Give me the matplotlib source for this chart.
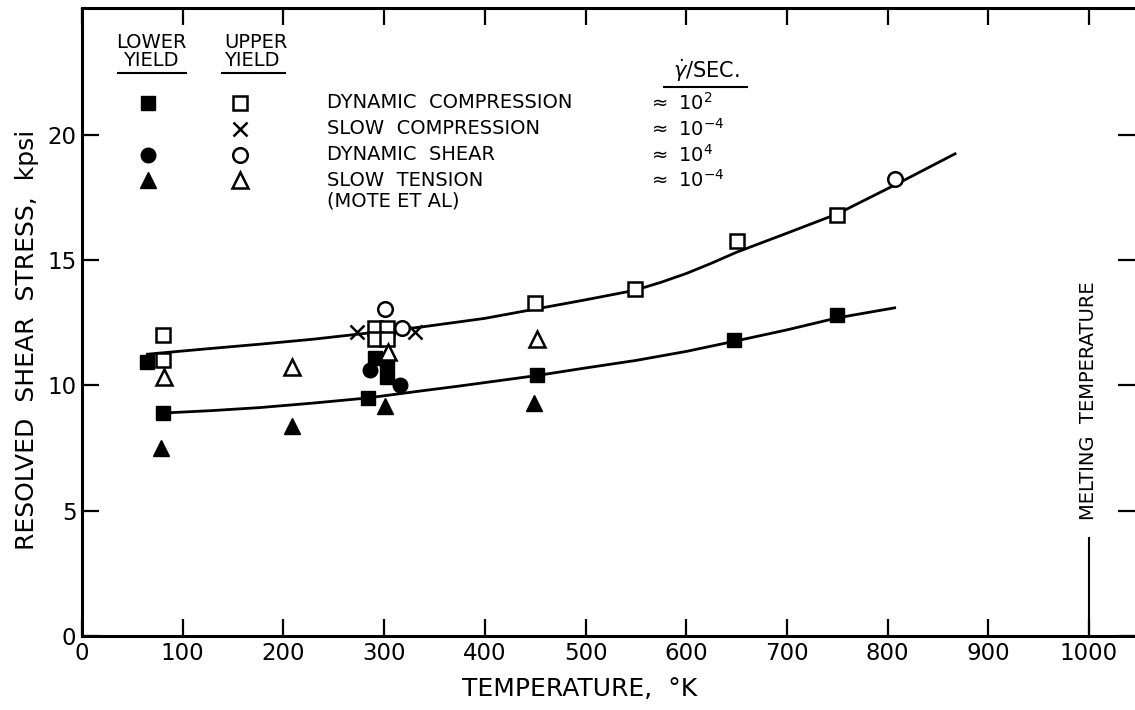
import matplotlib
matplotlib.use('Agg')
import matplotlib.pyplot as plt

# dynamic compression  (filled = lower yield, open = upper yield)
dc_low_T = [65, 80, 284, 291, 303, 303, 452, 647, 750]
dc_low_s = [10.95, 8.9, 9.5, 11.1, 10.95, 10.35, 10.4, 11.8, 12.8]
dc_up_T = [80, 80, 291, 303, 291, 303, 450, 549, 650, 750]
dc_up_s = [12.0, 11.0, 12.3, 12.3, 11.85, 11.85, 13.3, 13.85, 15.75, 16.8]

# slow compression
sc_T = [273, 331]
sc_s = [12.15, 12.15]

# dynamic shear
ds_low_T = [286, 316]
ds_low_s = [10.6, 10.0]
ds_up_T = [301, 318, 807]
ds_up_s = [13.05, 12.3, 18.25]

# slow tension (Mote et al)
st_low_T = [78, 209, 301, 449]
st_low_s = [7.5, 8.4, 9.2, 9.3]
st_up_T = [81, 209, 304, 452]
st_up_s = [10.35, 10.75, 11.35, 11.85]

# faired curves
upper_T = [65, 120, 177, 230, 270, 336, 400, 450, 500, 549, 575, 600, 625, 650, 700, 750, 807, 867]
upper_s = [11.25, 11.45, 11.65, 11.85, 12.03, 12.33, 12.68, 13.05, 13.42, 13.8, 14.12, 14.47, 14.88, 15.32, 16.08, 16.85, 18.0, 19.25]
lower_T = [80, 130, 177, 230, 283, 336, 375, 452, 500, 550, 600, 646, 700, 750, 807]
lower_s = [8.9, 9.0, 9.12, 9.3, 9.5, 9.78, 9.98, 10.4, 10.7, 11.0, 11.36, 11.75, 12.22, 12.7, 13.1]

melt_T = 1000

xticks = list(range(0, 1001, 100))
yticks = [0, 5, 10, 15, 20]

plt.rcParams['font.family'] = 'DejaVu Sans'
plt.rcParams['mathtext.fontset'] = 'dejavusans'

fig = plt.figure(figsize=(11.35, 7.1), dpi=100)
W, H = 1135.0, 710.0
L, R, T, B = 82, 1135, 8, 636
ax = fig.add_axes([L / W, 1 - B / H, (R - L) / W, (B - T) / H])
ax.set_xlim(0, (R - L) / 1.007)
ax.set_ylim(0, (B - T) / 25.05)

lw = 2.0
ax.plot(upper_T, upper_s, 'k-', lw=lw, zorder=2)
ax.plot(lower_T, lower_s, 'k-', lw=lw, zorder=2)

ms = 10.5
mew = 1.8
ax.plot(dc_low_T, dc_low_s, 's', color='k', ms=ms, ls='none', zorder=3)
ax.plot(dc_up_T, dc_up_s, 's', mfc='white', mec='k', mew=mew, ms=ms, ls='none', zorder=3)
ax.plot(sc_T, sc_s, 'x', color='k', mew=mew, ms=ms, ls='none', zorder=3)
ax.plot(ds_low_T, ds_low_s, 'o', color='k', ms=ms, ls='none', zorder=3)
ax.plot(ds_up_T, ds_up_s, 'o', mfc='white', mec='k', mew=mew, ms=ms, ls='none', zorder=3)
ax.plot(st_low_T, st_low_s, '^', color='k', ms=ms + 1, ls='none', zorder=3)
ax.plot(st_up_T, st_up_s, '^', mfc='white', mec='k', mew=mew, ms=ms + 1, ls='none', zorder=3)

# melting temperature marker
ax.plot([melt_T, melt_T], [0, 3.9], 'k-', lw=1.5)
ax.text(melt_T, 9.4, 'MELTING  TEMPERATURE', rotation=90, ha='center', va='center', fontsize=14)

ax.set_xticks(xticks)
ax.set_yticks(yticks)
ax.set_xticklabels([str(t) for t in xticks], fontsize=16.5)
ax.set_yticklabels([str(t) for t in yticks], fontsize=16.5)
ax.tick_params(direction='in', length=12, width=1.6, top=True, right=True, pad=4)
for side in ['left', 'bottom', 'top']:
    ax.spines[side].set_linewidth(2.2)
ax.spines['right'].set_visible(False)

fig.text(580 / W, 1 - 689 / H, 'TEMPERATURE,  °K', ha='center', va='center', fontsize=18)
fig.text(27 / W, 1 - 340 / H, 'RESOLVED  SHEAR  STRESS,  kpsi', rotation=90,
         ha='center', va='center', fontsize=18)


# legend drawn in figure pixel coordinates
def fx(x):
    return (x - L) / (R - L)


def fy(y):
    return (B - y) / (B - T)


tr = ax.transAxes
fs = 14
ax.text(fx(151), fy(43), 'LOWER', transform=tr, ha='center', va='center', fontsize=fs)
ax.text(fx(151), fy(61), 'YIELD', transform=tr, ha='center', va='center', fontsize=fs)
ax.text(fx(256), fy(43), 'UPPER', transform=tr, ha='center', va='center', fontsize=fs)
ax.text(fx(252), fy(61), 'YIELD', transform=tr, ha='center', va='center', fontsize=fs)
ax.plot([fx(118), fx(186)], [fy(73), fy(73)], 'k-', lw=1.5, transform=tr)
ax.plot([fx(222), fx(285)], [fy(73), fy(73)], 'k-', lw=1.5, transform=tr)
ax.text(fx(706), fy(71), r'$\dot{\gamma}$/SEC.', transform=tr, ha='center', va='center', fontsize=fs + 1)
ax.plot([fx(664), fx(747)], [fy(87), fy(87)], 'k-', lw=1.5, transform=tr)

rows = [103, 129, 155, 180]
ax.plot(fx(148), fy(rows[0]), 's', color='k', ms=ms, transform=tr)
ax.plot(fx(240), fy(rows[0]), 's', mfc='white', mec='k', mew=mew, ms=ms, transform=tr)
ax.plot(fx(240), fy(rows[1]), 'x', color='k', mew=mew, ms=ms - 1, transform=tr)
ax.plot(fx(148), fy(rows[2]), 'o', color='k', ms=ms, transform=tr)
ax.plot(fx(240), fy(rows[2]), 'o', mfc='white', mec='k', mew=mew, ms=ms, transform=tr)
ax.plot(fx(148), fy(rows[3]), '^', color='k', ms=ms + 1, transform=tr)
ax.plot(fx(240), fy(rows[3]), '^', mfc='white', mec='k', mew=mew, ms=ms + 1, transform=tr)

names = ['DYNAMIC  COMPRESSION', 'SLOW  COMPRESSION', 'DYNAMIC  SHEAR', 'SLOW  TENSION']
rates = [r'$\approx$ 10$^{2}$', r'$\approx$ 10$^{-4}$', r'$\approx$ 10$^{4}$', r'$\approx$ 10$^{-4}$']
for yy, nm, rt in zip(rows, names, rates):
    ax.text(fx(327), fy(yy), nm, transform=tr, ha='left', va='center', fontsize=fs)
    ax.text(fx(648), fy(yy), rt, transform=tr, ha='left', va='center', fontsize=fs)
ax.text(fx(327), fy(201), '(MOTE ET AL)', transform=tr, ha='left', va='center', fontsize=fs)

fig.savefig('out.png', dpi=100)
